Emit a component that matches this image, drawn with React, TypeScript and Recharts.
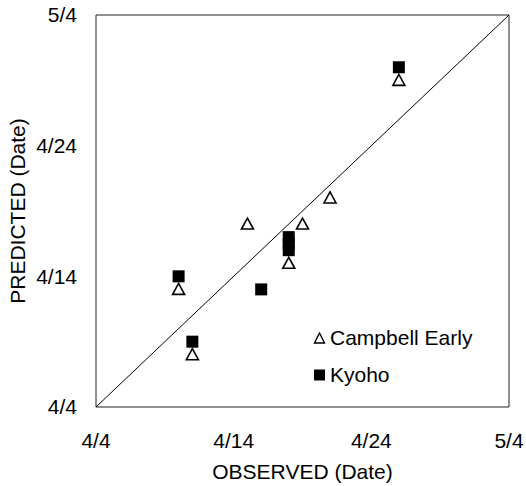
import React from 'react';
import {
  ScatterChart,
  Scatter,
  XAxis,
  YAxis,
  ReferenceLine,
  ReferenceArea
} from 'recharts';

// days after 4/4
const tickValues = [0, 10, 20, 30];
const tickLabels = ['4/4', '4/14', '4/24', '5/4'];

const campbellObserved = [22, 6, 7, 11, 15, 17, 14];
const campbellPredicted = [25, 9, 4, 14, 14, 16, 11];

const kyohoObserved = [22, 6, 7, 12, 14, 14, 14];
const kyohoPredicted = [26, 10, 5, 9, 13, 12.5, 12];

const campbellData = campbellObserved.map((x, i) => ({ x, y: campbellPredicted[i] }));
const kyohoData = kyohoObserved.map((x, i) => ({ x, y: kyohoPredicted[i] }));

const FONT = 'Liberation Sans, Arial, sans-serif';

const fmt = (v: number) => {
  const i = tickValues.indexOf(v);
  return i >= 0 ? tickLabels[i] : '';
};

const Triangle = ({ cx, cy }: any) => (
  <polygon
    points={`${cx},${cy - 6} ${cx - 6},${cy + 5} ${cx + 6},${cy + 5}`}
    fill="#fff"
    stroke="#000"
    strokeWidth={1.6}
  />
);

const Square = ({ cx, cy }: any) => (
  <rect x={cx - 6} y={cy - 6} width={12} height={12} fill="#000" />
);

const YTitle = ({ viewBox }: any) => {
  const cx = 17;
  const cy = viewBox.y + viewBox.height / 2;
  return (
    <text
      x={cx}
      y={cy}
      transform={`rotate(-90 ${cx} ${cy})`}
      textAnchor="middle"
      dominantBaseline="central"
      fontSize={21}
      fontFamily={FONT}
      fill="#000"
    >
      PREDICTED (Date)
    </text>
  );
};

const XTitle = ({ viewBox }: any) => (
  <text
    x={viewBox.x + viewBox.width / 2}
    y={479}
    textAnchor="middle"
    fontSize={21}
    fontFamily={FONT}
    fill="#000"
  >
    OBSERVED (Date)
  </text>
);

const LegendBox = () => (
  <div
    style={{
      position: 'absolute',
      left: 313,
      top: 319,
      fontFamily: FONT,
      fontSize: 21,
      color: '#000',
      lineHeight: '37px'
    }}
  >
    <div style={{ display: 'flex', alignItems: 'center' }}>
      <svg width={13} height={12} style={{ marginRight: 4 }}>
        <polygon points="6.5,1 1.5,11 11.5,11" fill="#fff" stroke="#000" strokeWidth={1.4} />
      </svg>
      Campbell Early
    </div>
    <div style={{ display: 'flex', alignItems: 'center' }}>
      <svg width={13} height={12} style={{ marginRight: 4 }}>
        <rect x={1} y={0.5} width={11} height={11} fill="#000" />
      </svg>
      Kyoho
    </div>
  </div>
);

export default function App() {
  return (
    <div style={{ position: 'fixed', left: 0, top: 0, width: 526, height: 486, background: '#fff' }}>
      <ScatterChart
        width={526}
        height={486}
        margin={{ top: 15, right: 17, bottom: 0, left: 0 }}
      >
        <XAxis
          type="number"
          dataKey="x"
          domain={[0, 30]}
          ticks={tickValues}
          tickFormatter={fmt}
          axisLine={false}
          tickLine={false}
          tickSize={6}
          tickMargin={20}
          height={79}
          tick={{ fontSize: 21, fontFamily: FONT, fill: '#000' }}
          label={<XTitle />}
        />
        <YAxis
          type="number"
          dataKey="y"
          domain={[0, 30]}
          ticks={tickValues}
          tickFormatter={fmt}
          axisLine={false}
          tickLine={false}
          tickSize={6}
          tickMargin={13}
          width={96}
          tick={{ fontSize: 21, fontFamily: FONT, fill: '#000' }}
          label={<YTitle />}
        />
        <ReferenceArea x1={0} x2={30} y1={0} y2={30} fill="none" stroke="#222" strokeWidth={1} />
        <ReferenceLine
          segment={[{ x: 0, y: 0 }, { x: 30, y: 30 }]}
          stroke="#000"
          strokeWidth={1}
        />
        <Scatter name="Campbell Early" data={campbellData} shape={<Triangle />} isAnimationActive={false} />
        <Scatter name="Kyoho" data={kyohoData} shape={<Square />} isAnimationActive={false} />
      </ScatterChart>
      <LegendBox />
    </div>
  );
}
